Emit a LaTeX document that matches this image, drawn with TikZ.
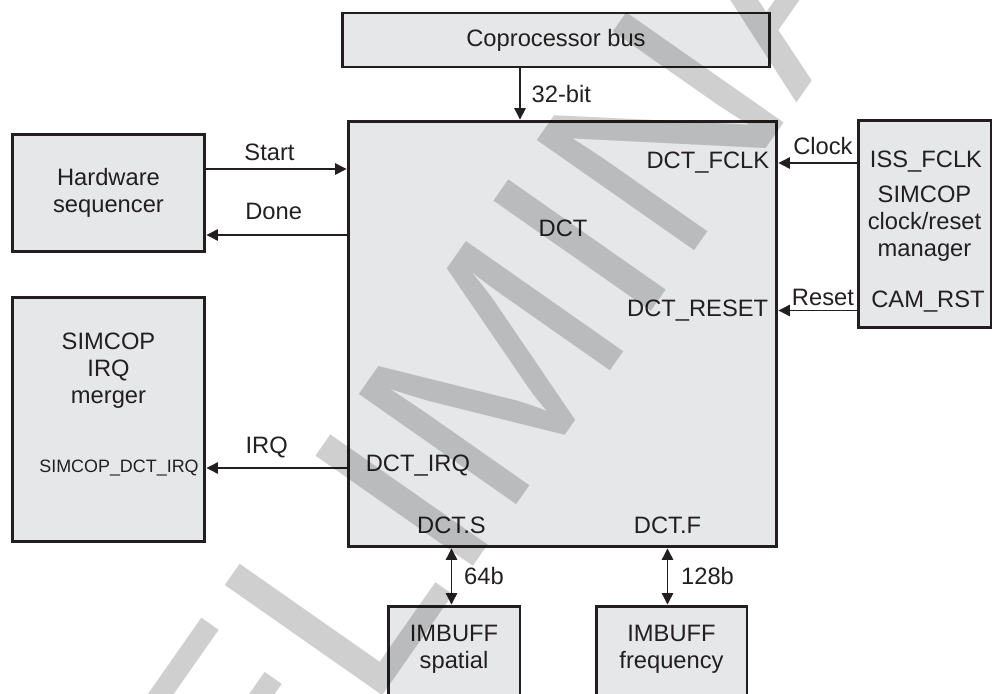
\documentclass[tikz,border=0pt]{standalone}
\usepackage{xcolor}
\usepackage{fontspec}
\setmainfont{Liberation Sans}
\usepackage{tikz}
\usetikzlibrary{positioning, arrows.meta}

\definecolor{unitfill}{RGB}{230,231,232}
\definecolor{ink}{RGB}{35,31,32}

\begin{document}
\begin{tikzpicture}[x=0.02cm, y=-0.02cm,
    unit/.style={draw=ink, line width=1.7pt, fill=unitfill, align=center, text=ink, inner sep=0pt, font=\fontsize{13.5}{15.3}\selectfont},
    pin/.style={text=ink, inner sep=2pt, align=center, font=\fontsize{13.5}{15.3}\selectfont},
    link/.style={text=ink, inner sep=2pt, font=\fontsize{13.5}{15.3}\selectfont},
    arr/.style={-{Triangle[length=2.3mm, width=2.3mm]}, draw=ink, line width=0.7pt},
    darr/.style={{Triangle[length=2.3mm, width=2.3mm]}-{Triangle[length=2.3mm, width=2.3mm]}, draw=ink, line width=0.7pt},
    watermark/.style={text=black, text opacity=0.19, inner sep=0pt, font=\fontsize{159}{159}\selectfont}
]
\useasboundingbox (0,0) rectangle (993,693);
% Units
\node[unit, minimum width=8.56cm, minimum height=1.08cm] (bus)    at (556,40)     {Coprocessor bus};
\node[unit, minimum width=8.58cm, minimum height=8.52cm] (dct)    at (562.5,334)  {};
\node[unit, minimum width=3.86cm, minimum height=2.36cm] (hwseq)  at (108.5,193)  {Hardware\\sequencer};
\node[unit, minimum width=3.86cm, minimum height=4.9cm]  (irqm)   at (108.5,419.5){};
\node[unit, minimum width=2.66cm, minimum height=4.16cm] (clkrst) at (924.5,224)  {SIMCOP\\clock/reset\\manager};
\node[unit, minimum width=2.64cm, minimum height=2.28cm] (imbs)   at (454,663)    {};
\node[unit, minimum width=3.02cm, minimum height=2.28cm] (imbf)   at (671.5,663)  {};
% Pins and names inside the units
\node[pin] (dctname) at (563,228) {DCT};
\node[pin, anchor=east] (fclk)  at (773,163)   {DCT\_FCLK};
\node[pin, anchor=east] (rstin) at (772,310.5) {DCT\_RESET};
\node[pin, anchor=west] (irqout) at (362,466)  {DCT\_IRQ};
\node[pin] (dcts) at (451.5,525) {DCT.S};
\node[pin] (dctf) at (667.5,525) {DCT.F};
\node[pin] (issclk) at (926,162) {ISS\_FCLK};
\node[pin] (camrst) at (928,302) {CAM\_RST};
\node[pin] (irqmname) at (108.5,371) {SIMCOP\\IRQ\\merger};
\node[pin, anchor=east, font=\fontsize{10.2}{12}\selectfont] (irqin) at (202.5,468) {SIMCOP\_DCT\_IRQ};
\node[pin] (imbsname) at (454,649.5)   {IMBUFF\\spatial};
\node[pin] (imbfname) at (671.5,649.5) {IMBUFF\\frequency};
% Signals
\draw[arr] ([xshift=-0.72cm]bus.south) coordinate (bw) -- (bw |- dct.north) node[link, midway, right=4.3pt]{32-bit};
\draw[arr] ([yshift=0.48cm]hwseq.east) coordinate (st) -- (st -| dct.west) node[link, pos=0.45, above=2.3pt]{Start};
\path ([yshift=-0.84cm]hwseq.east) coordinate (dn);
\draw[arr] (dn -| dct.west) -- (dn) node[link, pos=0.52, above=6.3pt]{Done};
\draw[arr] (dct.west |- irqin) -- (irqm.east |- irqin) node[link, pos=0.57, above=3.4pt]{IRQ};
\draw[arr] (clkrst.west |- fclk) -- (dct.east |- fclk) node[link, pos=0.43, above=2.6pt]{Clock};
\draw[arr] (clkrst.west |- rstin) -- (dct.east |- rstin) node[link, pos=0.43, above=0.3pt]{Reset};
\draw[darr] (dcts |- dct.south) -- (dcts |- imbs.north) node[link, midway, right=4.9pt]{64b};
\draw[darr] (dctf |- dct.south) -- (dctf |- imbf.north) node[link, midway, right=5.4pt]{128b};
% Watermark
\begin{scope}
\clip (0,0) rectangle (993,693);
\node[watermark, rotate=55] (prelim) at (503,356) {PRELIMINARY};
\end{scope}
\end{tikzpicture}
\end{document}
